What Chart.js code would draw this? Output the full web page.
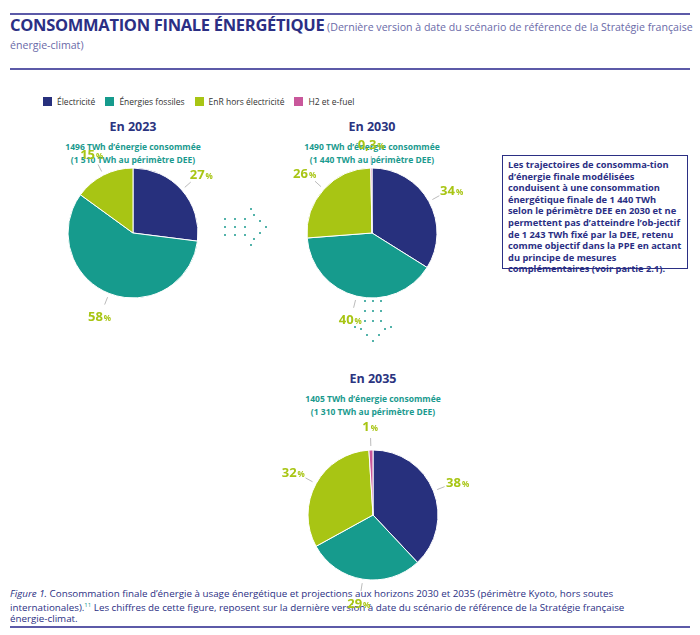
<!DOCTYPE html><html><head><meta charset="utf-8">
<script src="https://cdn.jsdelivr.net/npm/chart.js@4"></script>
<style>
body{margin:0;width:700px;height:635px;position:relative;font-family:"Open Sans",sans-serif;background:#fff;color:#2b2f84;overflow:hidden}
.a{position:absolute}
.line{position:absolute;left:10px;width:680px;height:2px;background:#5c5aa8}
.yr{position:absolute;width:200px;text-align:center;font-weight:700;font-size:12.5px;color:#2b3480}
.sub{position:absolute;width:220px;text-align:center;font-weight:700;font-size:8.5px;line-height:13px;color:#1a9a8e}
.leg span.b{display:inline-block;width:9px;height:9px;margin:0 5px -1px 0}
.leg span.t{margin-right:10px}
.dot{position:absolute;width:2px;height:2px;border-radius:1px;background:#1a9a8e}
</style></head><body>
<div class="line" style="top:13px"></div>
<div class="a" style="left:10px;top:16px;width:690px;font-size:10.6px;color:#6a6aa8;line-height:18px"><b style="font-size:16.5px;color:#2b2f84;letter-spacing:-0.3px">CONSOMMATION FINALE ÉNERGÉTIQUE</b> (Dernière version à date du scénario de référence de la Stratégie française énergie-climat)</div>
<div class="line" style="top:68px;height:1.5px"></div>
<div class="a leg" style="left:43px;top:96px;font-size:8.5px;color:#333" id="leg"></div>
<div class="yr" style="left:33px;top:118px">En 2023</div>
<div class="sub" style="left:23px;top:140px">1496 TWh d’énergie consommée<br>(1 510 TWh au périmètre DEE)</div>
<div class="yr" style="left:272px;top:118px">En 2030</div>
<div class="sub" style="left:262px;top:140px">1490 TWh d’énergie consommée<br>(1 440 TWh au périmètre DEE)</div>
<div class="yr" style="left:273px;top:370px">En 2035</div>
<div class="sub" style="left:263px;top:392px">1405 TWh d’énergie consommée<br>(1 310 TWh au périmètre DEE)</div>
<div class="a" style="left:502px;top:155px;width:174px;height:106px;border:1.5px solid #2b2f84;padding:3px 5px;font-size:9.3px;font-weight:700;line-height:11.6px;color:#2b2f84">Les trajectoires de consomma-tion d’énergie finale modélisées conduisent à une consommation énergétique finale de 1 440 TWh selon le périmètre DEE en 2030 et ne permettent pas d’atteindre l’ob-jectif de 1 243 TWh fixé par la DEE, retenu comme objectif dans la PPE en actant du principe de mesures complémentaires (voir partie 2.1).</div>
<div class="a" style="left:10px;top:588px;width:640px;font-size:9.8px;line-height:11.5px;color:#2b2f84"><i>Figure 1.</i> Consommation finale d’énergie à usage énergétique et projections aux horizons 2030 et 2035 (périmètre Kyoto, hors soutes internationales).<sup style="font-size:6px;color:#1a9a8e">11</sup> Les chiffres de cette figure, reposent sur la dernière version à date du scénario de référence de la Stratégie française énergie-climat.</div>
<div class="line" style="top:626px"></div>
<div class="a" style="left:13px;top:123px;width:240px;height:220px"><canvas id="c1"></canvas></div>
<div class="a" style="left:252px;top:123px;width:240px;height:220px"><canvas id="c2"></canvas></div>
<div class="a" style="left:253px;top:405px;width:240px;height:220px"><canvas id="c3"></canvas></div>
<div id="dots"></div>
<script>
const categories=["Électricité","Énergies fossiles","EnR hors électricité","H2 et e-fuel"];
const colors=["#27307d","#169b8d","#a8c514","#c9579b"];
const values2023=[27,58,15,0];
const values2030=[34,40,26,0.3];
const values2035=[38,29,32,1];
const labels2023=["27","58","15",""];
const labels2030=["34","40","26","0,3"];
const labels2035=["38","29","32","1"];
document.getElementById('leg').innerHTML=categories.map((c,i)=>`<span class="b" style="background:${colors[i]}"></span><span class="t">${c}</span>`).join('');
let d='';
const addArrow=(pts)=>pts.forEach(p=>d+=`<div class="dot" style="left:${p[0]}px;top:${p[1]}px"></div>`);
const rarrow=[[224,218],[224,226],[224,234],[234,218],[234,226],[234,234],[244,218],[244,226],[244,234],[253,214],[259,220],[265,226],[259,232],[253,238],[250,208],[250,244]];
const darrow=[[364,300],[372,300],[380,300],[364,310],[372,310],[380,310],[364,320],[372,320],[380,320],[360,328],[384,328],[366,334],[378,334],[372,340],[354,326],[390,326]];
addArrow(rarrow);addArrow(darrow);
document.getElementById('dots').innerHTML=d;
const lblPlugin={id:'lbl',afterDatasetsDraw(ch){
 const ctx=ch.ctx,meta=ch.getDatasetMeta(0),labs=ch.options.plugins.lbl.labels;
 meta.data.forEach((a,i)=>{if(!labs[i])return;
  const ang=(a.startAngle+a.endAngle)/2,r=a.outerRadius,cx=a.x,cy=a.y;
  const c=Math.cos(ang),s=Math.sin(ang);
  ctx.save();ctx.strokeStyle='#bbb';ctx.lineWidth=1;ctx.beginPath();
  ctx.moveTo(cx+c*(r+4),cy+s*(r+4));ctx.lineTo(cx+c*(r+12),cy+s*(r+12));ctx.stroke();
  const tx=cx+c*(r+26),ty=cy+s*(r+24);
  ctx.font='bold 13px "Open Sans"';const w1=ctx.measureText(labs[i]).width;
  ctx.font='bold 8px "Open Sans"';const w2=ctx.measureText('%').width;
  let x=tx-(w1+w2+1)/2;ctx.fillStyle='#a8c514';ctx.textBaseline='alphabetic';
  ctx.font='bold 13px "Open Sans"';ctx.fillText(labs[i],x,ty+5);
  ctx.font='bold 8px "Open Sans"';ctx.fillText('%',x+w1+1,ty+5);ctx.restore();});
}};
function pie(id,vals,labs){
 new Chart(document.getElementById(id),{type:'pie',plugins:[lblPlugin],
 data:{labels:categories,datasets:[{data:vals,backgroundColor:colors,borderColor:'#fff',borderWidth:1,radius:65}]},
 options:{responsive:true,maintainAspectRatio:false,animation:false,
 plugins:{legend:{display:false},tooltip:{enabled:false},lbl:{labels:labs}}}});
}
pie('c1',values2023,labels2023);pie('c2',values2030,labels2030);pie('c3',values2035,labels2035);
</script></body></html>
